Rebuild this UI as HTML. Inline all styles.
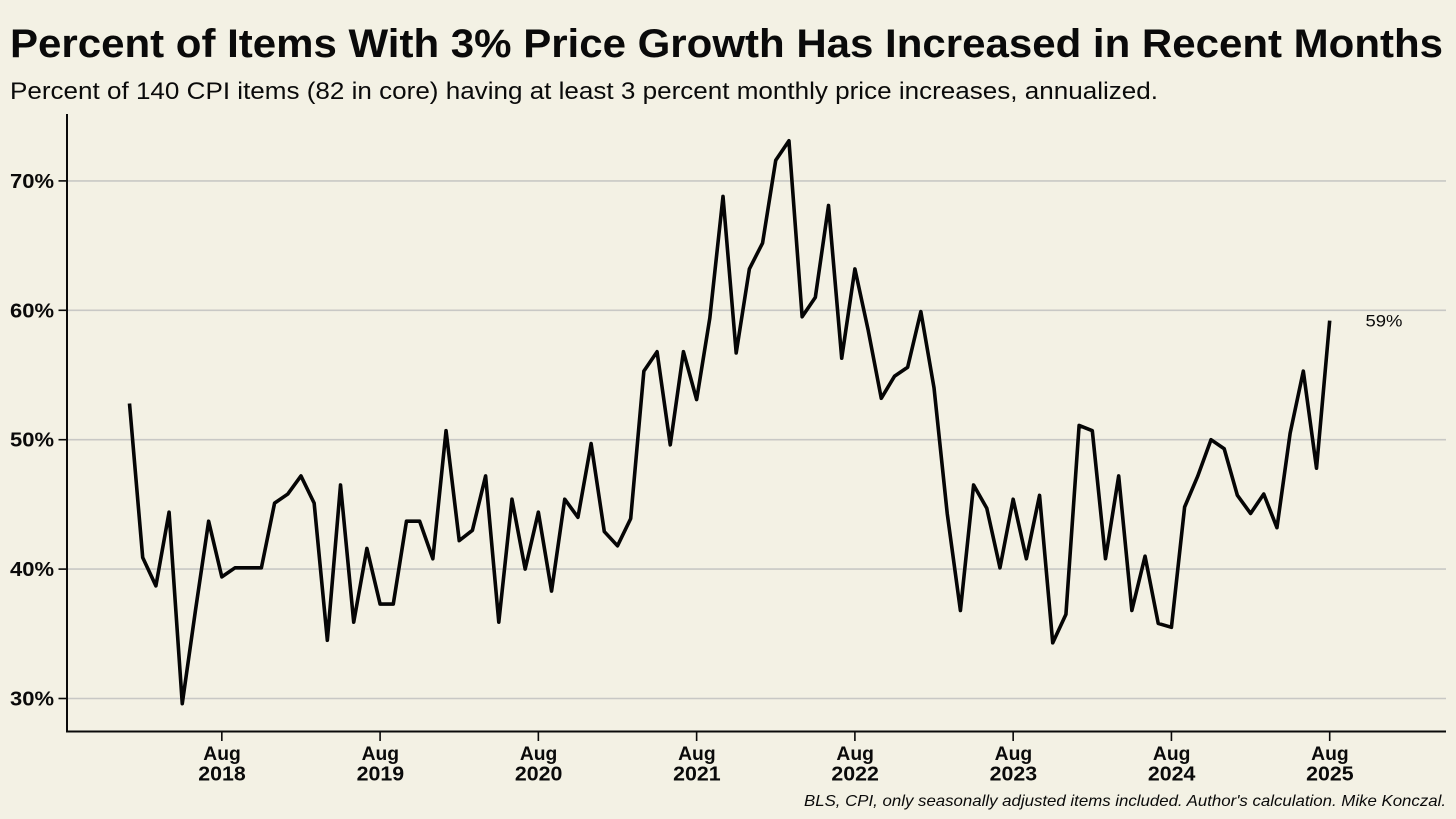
<!DOCTYPE html>
<html lang="en">
<head>
<meta charset="utf-8">
<title>Percent of Items With 3% Price Growth</title>
<style>
html,body{margin:0;padding:0;background:#f3f1e4;width:1456px;height:819px;overflow:hidden}
svg{display:block}
text{font-family:"Liberation Sans",sans-serif;fill:#0a0a0a}
</style>
</head>
<body>
<svg id="chart" xmlns="http://www.w3.org/2000/svg" width="1456" height="819" viewBox="0 0 1456 819">
<rect x="0" y="0" width="1456" height="819" fill="#f3f1e4"/>
<text x="10" y="57" font-size="40" font-weight="700" textLength="1433" lengthAdjust="spacingAndGlyphs">Percent of Items With 3% Price Growth Has Increased in Recent Months</text>
<text x="10" y="99" font-size="24" textLength="1148" lengthAdjust="spacingAndGlyphs">Percent of 140 CPI items (82 in core) having at least 3 percent monthly price increases, annualized.</text>
<text x="1446" y="806" font-size="16" font-style="italic" text-anchor="end" textLength="642" lengthAdjust="spacingAndGlyphs">BLS, CPI, only seasonally adjusted items included. Author's calculation. Mike Konczal.</text>
</svg>
<script>
// Monthly values, Jan 2018 through Aug 2025 (percent)
const seriesValues = [
52.8,40.9,38.7,44.4,29.6,36.8,43.7,39.4,40.1,40.1,40.1,45.1,
45.8,47.2,45.1,34.5,46.5,35.9,41.6,37.3,37.3,43.7,43.7,40.8,
50.7,42.2,43.0,47.2,35.9,45.4,40.0,44.4,38.3,45.4,44.0,49.7,
42.9,41.8,43.9,55.3,56.8,49.6,56.8,53.1,59.4,68.8,56.7,63.2,
65.2,71.6,73.1,59.5,61.0,68.1,56.3,63.2,58.5,53.2,54.9,55.6,
59.9,54.0,44.3,36.8,46.5,44.7,40.1,45.4,40.8,45.7,34.3,36.5,
51.1,50.7,40.8,47.2,36.8,41.0,35.8,35.5,44.8,47.2,50.0,49.3,
45.7,44.3,45.8,43.2,50.5,55.3,47.8,59.2
];
const yTickValues = [30,40,50,60,70];
const yTickLabels = ["30%","40%","50%","60%","70%"];
const xTickMonthIndex = [7,19,31,43,55,67,79,91];
const xTickMonths = ["Aug","Aug","Aug","Aug","Aug","Aug","Aug","Aug"];
const xTickYears = ["2018","2019","2020","2021","2022","2023","2024","2025"];
const endLabel = "59%";

const plotLeft = 67, plotRight = 1446, plotTop = 114, plotBottom = 731.5;
function xScale(i){ return 129.5 + i * (1329.7 - 129.5) / 91; }
function yScale(v){ return 698.5 - (v - 30) * 12.94; }

const svg = document.getElementById('chart');
const NS = 'http://www.w3.org/2000/svg';
function make(tag, attrs, text){
  const el = document.createElementNS(NS, tag);
  for (const k in attrs) el.setAttribute(k, attrs[k]);
  if (text !== undefined) el.textContent = text;
  svg.appendChild(el);
  return el;
}

yTickValues.forEach(function(v, i){
  const y = yScale(v);
  const grid = make('line', {x1:plotLeft, x2:plotRight, y1:y, y2:y, stroke:'#c8c8c5', 'stroke-width':1.6});
  
  
  const tick = make('line', {x1:58.5, x2:plotLeft, y1:y, y2:y, stroke:'#0a0a0a', 'stroke-width':1.6});
  
  
  const lab = make('text', {x:10, y:y + 7, 'font-size':20, 'font-weight':700, textLength:44, lengthAdjust:'spacingAndGlyphs'}, yTickLabels[i]);
  
  
});

const yAxis = make('line', {x1:plotLeft, x2:plotLeft, y1:plotTop, y2:plotBottom + 1, stroke:'#0a0a0a', 'stroke-width':2});


const xAxis = make('line', {x1:plotLeft - 1, x2:plotRight, y1:plotBottom, y2:plotBottom, stroke:'#0a0a0a', 'stroke-width':2});



xTickMonthIndex.forEach(function(m, i){
  const x = xScale(m);
  const tick = make('line', {x1:x, x2:x, y1:plotBottom, y2:741, stroke:'#0a0a0a', 'stroke-width':1.6});
  
  
  const mon = make('text', {x:x - 18.5, y:760, 'font-size':19, 'font-weight':700, textLength:37.5, lengthAdjust:'spacingAndGlyphs'}, xTickMonths[i]);
  
  
  const yr = make('text', {x:x - 23.5, y:780.5, 'font-size':20, 'font-weight':700, textLength:47.5, lengthAdjust:'spacingAndGlyphs'}, xTickYears[i]);
  
  
});

const linePoints = seriesValues.map(function(v, i){
  return xScale(i).toFixed(2) + ',' + yScale(v).toFixed(2);
}).join(' ');
const line = make('polyline', {points:linePoints, fill:'none', stroke:'#050505', 'stroke-width':3.6, 'stroke-linejoin':'round'});



const last = seriesValues[seriesValues.length - 1];
const endText = make('text', {x:1365.5, y:yScale(last) + 6, 'font-size':17, textLength:37, lengthAdjust:'spacingAndGlyphs'}, endLabel);


</script>
</body>
</html>
